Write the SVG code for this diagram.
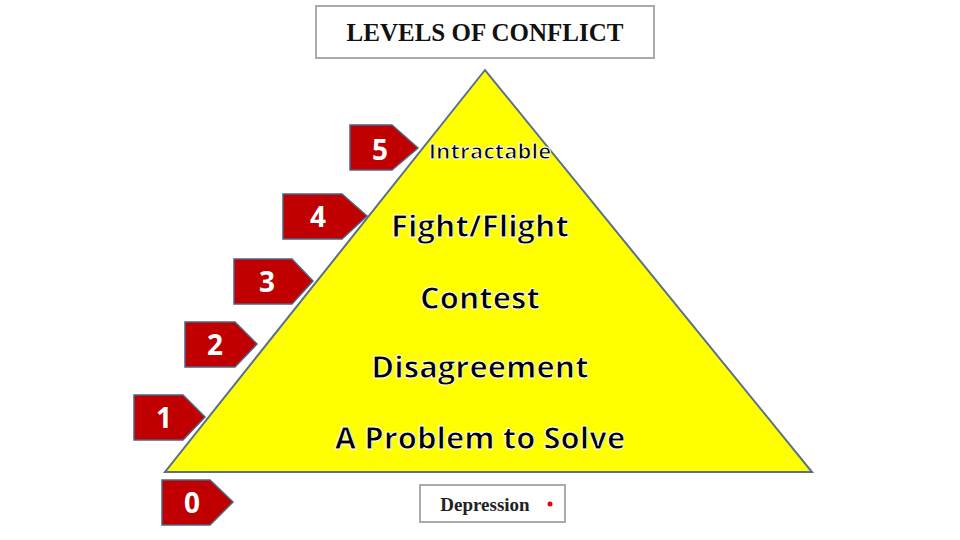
<svg xmlns="http://www.w3.org/2000/svg" width="960" height="540" viewBox="0 0 960 540">
<style>
.tag{fill:#c00000;stroke:#4f6280;stroke-width:1.5}
.num{font-family:"Open Sans","DejaVu Sans",sans-serif;font-weight:bold;font-size:28px;fill:#fff;text-anchor:middle}
.lvl{font-family:"Open Sans","DejaVu Sans",sans-serif;font-weight:bold;fill:#000;stroke:#fff;stroke-width:1;paint-order:normal;text-anchor:middle}
.box{fill:#fff;stroke:#aaa;stroke-width:2}
</style>
<rect width="960" height="540" fill="#fff"/>
<g id="title"><rect class="box" x="316" y="6" width="338" height="52"/>
<text x="485" y="41" font-family="Liberation Serif,serif" font-weight="bold" font-size="25" text-anchor="middle" fill="#111">LEVELS OF CONFLICT</text></g>
<g id="pyramid"><polygon points="485,70 165,472 812,472" fill="#ffff00" stroke="#5a6f8a" stroke-width="2"/></g>
<g id="n5"><polygon class="tag" points="350,125 392,125 418,148 392,170 350,170"/><text class="num" x="380" y="160">5</text>
<text class="lvl" x="490" y="159" font-size="22" stroke-width="0.6">Intractable</text></g>
<g id="n4"><polygon class="tag" points="283,194 342,194 367,216 342,239 283,239"/><text class="num" x="318" y="227">4</text>
<text class="lvl" x="480" y="237" font-size="31">Fight/Flight</text></g>
<g id="n3"><polygon class="tag" points="234,259 292,259 313,281 292,304 234,304"/><text class="num" x="267" y="292">3</text>
<text class="lvl" x="480" y="309" font-size="31">Contest</text></g>
<g id="n2"><polygon class="tag" points="185,322 235,322 257,344 235,367 185,367"/><text class="num" x="215" y="355">2</text>
<text class="lvl" x="480" y="378" font-size="31">Disagreement</text></g>
<g id="n1"><polygon class="tag" points="134,395 183,395 205,417 183,440 134,440"/><text class="num" x="164" y="428">1</text>
<text class="lvl" x="480" y="449" font-size="31">A Problem to Solve</text></g>
<g id="n0"><polygon class="tag" points="162,480 210,480 233,502 210,525 162,525"/><text class="num" x="192" y="513">0</text></g>
<g id="depression"><rect class="box" x="420" y="485" width="145" height="37"/>
<text x="485" y="511" font-family="Liberation Serif,serif" font-weight="bold" font-size="19" text-anchor="middle" fill="#222">Depression</text>
<circle cx="550" cy="504" r="2.5" fill="#e00"/></g>
<g id="connectors"/>
</svg>
